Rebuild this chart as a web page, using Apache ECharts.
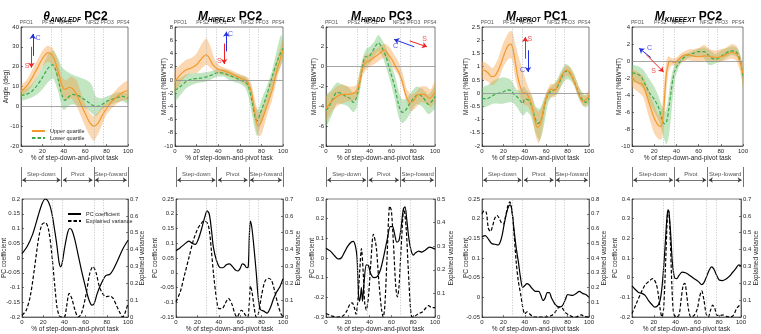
<!DOCTYPE html>
<html>
<head>
<meta charset="utf-8">
<script src="https://cdn.jsdelivr.net/npm/echarts@6/dist/echarts.min.js"></script>
<style>
  html, body { margin: 0; padding: 0; background: #fff; }
  #chart { width: 761px; height: 334px; }
</style>
</head>
<body>
<div id="chart"></div>
<script>
// ---- top row: mean and quartile band of the two groups (orange = upper quartile, green = lower quartile)
const p1OrMean = [[0,7.5],[5,10],[10,14],[15,19],[20,24],[25,27],[28,26.5],[31,24],[35,17],[38,11],[41,8.5],[45,9.5],[48,9],[52,6],[56,1],[60,-3.5],[64,-8],[68,-10],[72,-8.5],[76,-4.5],[80,-1],[85,2.5],[90,5],[95,7],[100,8]]
const p1OrHi = [[0,10.5],[5,13],[10,18],[15,23],[20,28],[25,30.5],[30,29],[35,22],[38,15],[42,13],[47,15],[52,13],[56,7],[60,1],[64,-3],[68,-5],[72,-3],[76,0],[80,2],[85,6],[90,9],[95,11.5],[100,13]]
const p1OrLo = [[0,5],[5,7],[10,10],[15,15],[20,20],[25,22.5],[30,20.5],[35,12],[38,6],[42,3],[47,4],[52,0],[56,-5],[60,-10],[64,-14.5],[68,-17.5],[72,-14],[76,-9],[80,-4],[85,-1],[90,1.5],[95,3],[100,3.5]]
const p1GrMean = [[0,5.5],[5,6],[10,7.5],[15,10.5],[20,14.5],[25,19],[29,21],[32,19],[35,13],[38,6],[41,3],[44,4.5],[48,6],[53,5.5],[58,4],[63,2],[68,0.3],[72,0],[76,1],[80,2.5],[85,3.5],[90,4.5],[95,5],[100,4]]
const p1GrHi = [[0,8],[5,9],[10,11],[15,15],[20,20],[25,26],[30,28],[35,24],[38,20],[42,18],[48,16],[55,14.5],[62,13],[66,11],[70,5],[75,4],[80,5],[85,6],[90,7],[95,7],[100,6.5]]
const p1GrLo = [[0,3],[5,3.5],[10,4.5],[15,6],[20,8.5],[25,12],[30,14],[35,7],[38,0],[40,-2],[44,0],[48,1],[55,0],[62,-1.5],[66,-3.5],[70,-5],[75,-2],[80,0],[85,1],[90,2],[95,2.5],[100,1.5]]

const p2OrMean = [[0,-0.2],[5,0.8],[10,1.5],[15,1.8],[20,2.3],[25,3.3],[29,3.8],[32,3.2],[35,2.3],[40,1.6],[45,1.4],[50,1.1],[55,0.7],[60,0.3],[65,0],[68,-0.5],[71,-2],[74,-5],[77,-7],[80,-6.3],[85,-4],[90,-1.5],[95,1.8],[100,4.5]]
const p2OrHi = [[0,1.5],[5,2.3],[10,3],[15,3.3],[20,4],[25,5.5],[29,6.3],[33,5],[37,3],[42,2.1],[50,1.6],[58,1],[64,0.6],[68,0.3],[71,-0.8],[74,-3],[77,-4.8],[80,-4.8],[85,-2.5],[90,0.5],[95,3.5],[100,6]]
const p2OrLo = [[0,-2],[5,-0.5],[10,0.5],[15,1],[20,1],[25,1.8],[29,2.3],[33,1.8],[37,1.2],[42,0.9],[50,0.5],[58,0],[64,-0.6],[68,-1.5],[71,-3.5],[74,-6.5],[77,-8.5],[80,-8.3],[85,-5.5],[90,-3],[95,0.5],[100,3.3]]
const p2GrMean = [[0,-1.6],[5,-1],[10,-0.3],[15,0.1],[20,0.2],[25,0.3],[30,0.5],[35,0.8],[40,1.1],[45,1],[50,0.7],[55,0.4],[60,0],[65,-0.3],[68,-1],[71,-3],[74,-5.5],[76,-6.2],[79,-5],[84,-2.8],[90,0.5],[95,3],[100,4.8]]
const p2GrHi = [[0,0],[5,0.3],[10,0.8],[15,1],[20,1],[30,1.2],[35,1.4],[40,1.6],[45,1.6],[50,1.4],[55,1],[60,0.7],[65,0.5],[68,0],[71,-1.5],[74,-4],[77,-4.5],[80,-3],[85,-1],[90,1.5],[95,5],[98,6.8],[100,6]]
const p2GrLo = [[0,-3.2],[5,-2.3],[10,-1.3],[15,-0.8],[20,-0.5],[30,-0.2],[35,0.2],[40,0.5],[45,0.5],[50,0],[55,-0.3],[60,-0.6],[65,-1.2],[68,-2.5],[71,-5],[74,-7.5],[76,-8.5],[79,-7],[84,-4.5],[90,-1.5],[95,1],[100,3]]

const p3OrMean = [[0,-4.2],[5,-3.5],[10,-3],[15,-2.8],[20,-2.8],[25,-2.7],[28,-2.5],[31,-1.5],[34,0],[37,0.5],[40,0.6],[45,1],[50,1.4],[53,1.7],[56,1.4],[60,0.8],[64,0],[67,-0.6],[70,-1.5],[73,-2.8],[77,-3.6],[80,-3.5],[85,-2.8],[90,-2.8],[95,-3.2],[100,-2.5]]
const p3OrHi = [[0,-3],[5,-2.5],[10,-2],[15,-1.8],[20,-2],[25,-2],[28,-1.8],[31,-0.5],[34,0.8],[37,1.2],[40,1.3],[45,1.7],[50,2.1],[54,2.3],[58,2],[62,1.3],[66,0.6],[70,-0.5],[74,-2.2],[78,-2.8],[82,-2.6],[87,-2],[92,-2],[96,-2.3],[100,-1.5]]
const p3OrLo = [[0,-5.5],[5,-4.6],[10,-4],[15,-3.7],[20,-3.5],[25,-3.4],[28,-3.2],[31,-2.3],[34,-0.8],[37,-0.3],[40,0],[45,0.3],[50,0.7],[54,0.9],[58,0.5],[62,-0.2],[66,-0.8],[70,-2],[74,-3.5],[78,-4.5],[82,-4.2],[87,-3.6],[92,-3.7],[96,-4.1],[100,-3.5]]
const p3GrMean = [[0,-4.4],[3,-4],[6,-3.3],[10,-2.6],[14,-2.7],[18,-3],[22,-3.2],[25,-3.6],[28,-3.1],[31,-1.5],[34,0.3],[36,1],[39,1],[42,1.4],[45,2],[48,2.4],[51,2],[55,1],[59,-0.5],[63,-2],[67,-4],[70,-4.6],[73,-4.4],[77,-3.7],[81,-3.1],[85,-2.8],[89,-3.1],[94,-3.8],[100,-3]]
const p3GrHi = [[0,-3],[5,-2.3],[10,-1.6],[15,-1.8],[20,-2],[25,-2.6],[28,-2.2],[31,-0.5],[34,1],[37,1.8],[40,2],[44,2.5],[48,3.2],[51,2.8],[55,2],[59,0.6],[63,-0.8],[67,-2.6],[70,-3.3],[74,-3.2],[78,-2.6],[83,-2],[88,-2.2],[94,-2.8],[100,-2]]
const p3GrLo = [[0,-6],[5,-5],[10,-3.7],[15,-3.8],[20,-4],[25,-4.6],[28,-4.2],[31,-2.5],[34,-0.4],[37,0],[40,0.3],[44,1],[48,1.5],[51,1.2],[55,0],[59,-1.5],[63,-3.2],[67,-5.2],[70,-5.7],[74,-5.3],[78,-4.6],[83,-3.8],[88,-4],[94,-4.8],[100,-4.2]]

const p4OrMean = [[0,0.88],[3,0.85],[6,0.75],[9,0.62],[12,0.65],[15,0.85],[18,1.15],[21,1.5],[24,1.78],[27,1.85],[29,1.65],[31,1.2],[33,0.7],[35,0.35],[37,0.1],[39,0],[41,0],[43,-0.1],[46,-0.4],[49,-0.95],[52,-1.3],[55,-1.1],[58,-0.5],[61,-0.05],[63,0.1],[65,0.15],[68,0.1],[71,0.35],[75,0.7],[79,0.87],[82,0.8],[86,0.45],[90,0],[94,-0.3],[97,-0.25],[100,-0.1]]
const p4OrHi = [[0,1.2],[5,1.1],[10,0.95],[15,1.3],[20,1.9],[25,2.3],[28,2.35],[31,1.9],[34,1.4],[37,1],[40,0.6],[43,0.25],[47,-0.1],[50,-0.55],[53,-0.7],[56,-0.5],[60,0],[64,0.35],[68,0.35],[72,0.6],[76,0.9],[79,1.05],[83,0.95],[87,0.6],[91,0.2],[95,-0.1],[100,0.1]]
const p4OrLo = [[0,0.55],[5,0.45],[10,0.3],[15,0.5],[20,1],[25,1.3],[28,1.3],[31,0.6],[34,0.1],[37,-0.3],[40,-0.45],[43,-0.5],[47,-0.9],[50,-1.6],[53,-1.9],[56,-1.5],[60,-0.4],[64,-0.15],[68,-0.15],[72,0.1],[76,0.5],[79,0.65],[83,0.55],[87,0.2],[91,-0.25],[95,-0.5],[100,-0.35]]
const p4GrMean = [[0,-0.2],[4,-0.22],[8,-0.15],[12,-0.05],[16,0],[20,0.05],[24,0.12],[27,0.1],[30,-0.05],[33,-0.15],[36,-0.3],[38,-0.4],[40,-0.22],[43,-0.25],[46,-0.45],[49,-0.85],[52,-1.15],[55,-1.05],[58,-0.55],[61,-0.1],[64,0.05],[67,0.1],[70,0.2],[74,0.55],[78,0.82],[81,0.8],[85,0.55],[89,0.15],[93,-0.2],[97,-0.35],[100,-0.2]]
const p4GrHi = [[0,0.2],[5,0.3],[10,0.45],[15,0.55],[20,0.6],[25,0.55],[28,0.45],[32,0.15],[36,0.1],[39,0.25],[42,0.1],[46,-0.1],[50,-0.5],[54,-0.6],[58,-0.2],[62,0.15],[66,0.3],[70,0.5],[74,0.85],[78,1.1],[82,1],[86,0.75],[90,0.3],[94,0],[97,-0.1],[100,0]]
const p4GrLo = [[0,-0.55],[5,-0.5],[10,-0.4],[15,-0.4],[20,-0.4],[25,-0.35],[28,-0.35],[32,-0.5],[36,-0.75],[39,-0.85],[42,-0.7],[46,-0.9],[50,-1.5],[54,-1.8],[58,-1.2],[62,-0.35],[66,-0.1],[70,-0.05],[74,0.25],[78,0.5],[82,0.5],[86,0.3],[90,-0.15],[94,-0.45],[97,-0.55],[100,-0.4]]

const p5OrMean = [[0,-1.9],[3,-2.4],[6,-2.6],[9,-2.7],[12,-3.5],[15,-4.8],[18,-6],[21,-7],[24,-7.6],[26,-7.7],[28,-6.5],[29.5,-4],[31,-1.5],[33,-0.2],[35,0],[37,-0.15],[39,-0.15],[42,0.2],[46,0.6],[50,0.75],[55,0.6],[60,0.5],[65,0.6],[70,0.55],[75,0.4],[80,0.5],[85,0.75],[90,1],[94,0.8],[97,0],[100,-1.5]]
const p5OrHi = [[0,-1],[5,-1.3],[10,-1.8],[15,-3.3],[20,-5.2],[24,-6.3],[27,-5.5],[29,-2.5],[31,0],[33,0.6],[36,0.3],[40,0.4],[45,1],[50,1.3],[55,1.4],[60,1.5],[65,1.9],[70,1.4],[75,1.2],[80,1.4],[85,1.6],[90,2],[94,1.8],[97,0.8],[100,-0.5]]
const p5OrLo = [[0,-3],[5,-3.6],[10,-4.2],[15,-6.5],[20,-8.5],[24,-9.2],[27,-9.2],[29,-7],[31,-3.5],[33,-1.2],[36,-0.5],[40,-0.6],[45,-0.1],[50,0.1],[55,0],[60,-0.1],[65,0],[70,0],[75,-0.1],[80,0],[85,0.1],[90,0.3],[94,0],[97,-1],[100,-3]]
const p5GrMean = [[0,-1.4],[4,-1.5],[8,-1.8],[12,-2.8],[16,-3.8],[20,-4.5],[24,-5.5],[27,-6.8],[29,-7.4],[31,-7.2],[33,-5.8],[35,-3.8],[37,-2],[39,-1],[42,-0.3],[46,0.3],[50,0.7],[55,0.9],[60,1.1],[65,1.1],[68,0.8],[71,0.4],[75,0.2],[79,0.4],[83,0.8],[88,1.15],[92,1.2],[95,0.9],[98,-0.2],[100,-2]]
const p5GrHi = [[0,-0.5],[5,-0.6],[10,-1],[15,-2],[20,-3],[24,-4.2],[27,-5.3],[30,-6],[32,-5],[34,-3],[36,-1.5],[38,-0.5],[40,0],[45,0.7],[50,0.9],[55,1.2],[60,1.5],[65,1.6],[70,1.3],[75,0.8],[80,1.2],[85,1.5],[90,1.7],[95,1.5],[98,0.5],[100,-1.3]]
const p5GrLo = [[0,-2.5],[5,-2.6],[10,-3.3],[15,-4.8],[20,-6],[24,-7],[27,-8.3],[29,-9.2],[31,-9.8],[33,-9],[35,-6.8],[37,-4],[39,-2],[42,-0.8],[46,0],[50,0.3],[55,0.5],[60,0.6],[65,0.3],[68,-0.3],[71,-0.5],[75,-0.3],[80,-0.1],[85,0.4],[90,0.7],[95,0.4],[98,-1],[100,-3]]

// ---- bottom row: PC coefficient (left axis) and explained variance (right axis)
const p6Coef = [[0,0.015],[5,0.04],[10,0.08],[15,0.14],[19,0.185],[22,0.2],[25,0.19],[28,0.155],[31,0.09],[33,0.04],[35,-0.015],[36.5,-0.03],[38,-0.015],[40,0.03],[43,0.085],[45,0.1],[47,0.095],[50,0.06],[53,0.01],[56,-0.04],[60,-0.1],[63,-0.14],[66,-0.16],[68,-0.155],[71,-0.12],[75,-0.085],[79,-0.06],[83,-0.055],[86,-0.04],[90,-0.01],[95,0.03],[100,0.06]]
const p6Var = [[0,0.01],[4,0.04],[8,0.13],[12,0.3],[16,0.48],[19,0.55],[22,0.56],[25,0.52],[28,0.38],[31,0.18],[33,0.06],[35,0.01],[37,0],[40,0],[42,0.06],[44.5,0.14],[47,0.11],[50,0.04],[53,0],[56,0.02],[60,0.12],[64,0.26],[67,0.3],[70,0.26],[73,0.18],[76,0.14],[79,0.12],[83,0.125],[86,0.11],[89,0.07],[92,0.03],[95,0],[97,0.02],[100,0.08]]

const p7Coef = [[0,0.075],[4,0.085],[8,0.097],[12,0.107],[15,0.1],[18,0.096],[21,0.115],[24,0.15],[27,0.19],[29,0.21],[31,0.2],[33,0.15],[35,0.085],[38,0.04],[41,0.018],[44,0.017],[47,0.027],[50,0.03],[53,0.02],[56,0.008],[58,0.006],[60,0.015],[62,0.03],[64,0.027],[66,0.017],[67.5,0.02],[68.5,0.12],[69.5,0.175],[71,0.15],[73,0.08],[75,0],[77,-0.09],[79,-0.125],[82,-0.13],[85,-0.137],[88,-0.12],[91,-0.09],[94,-0.065],[97,-0.048],[100,-0.02]]
const p7Var = [[0,0.09],[4,0.15],[8,0.25],[12,0.35],[16,0.45],[20,0.52],[23,0.55],[26,0.57],[29,0.56],[31,0.52],[33,0.4],[35,0.26],[38,0.1],[40,0.05],[43,0.05],[46,0.08],[49,0.11],[52,0.08],[55,0.02],[57,0],[59,0.02],[61,0.04],[63,0.03],[65,0.01],[67,0],[68.5,0.08],[69.5,0.185],[71,0.15],[73,0.06],[75,0],[77,0.02],[80,0.13],[83,0.21],[86,0.23],[89,0.22],[92,0.16],[95,0.08],[98,0.02],[100,0]]

const p8Coef = [[0,0.05],[4,0.035],[8,0.01],[11,-0.005],[14,0],[17,0.03],[20,0.06],[23,0.08],[25,0.085],[27,0.06],[28.5,0],[29.5,-0.15],[30.5,-0.22],[31.5,-0.2],[32.5,-0.15],[33.5,-0.22],[35,-0.12],[37,-0.035],[39,-0.04],[41,-0.08],[44,-0.1],[47,-0.095],[50,-0.06],[53,0.01],[56,0.09],[59,0.16],[61,0.16],[63,0.12],[65,0.08],[67,0.09],[69,0.16],[71,0.25],[72.5,0.26],[74,0.2],[76,0.1],[78,0.04],[80,0.015],[82,0.025],[85,0.035],[88,0.03],[91,0.04],[95,0.055],[100,0.045]]
const p8Var = [[0,0.015],[5,0.005],[10,0],[15,0.003],[19,0.025],[22,0.055],[24,0.06],[26,0.04],[27.5,0.012],[29,0.06],[31,0.2],[32.5,0.29],[34,0.2],[35.5,0.06],[37,0.03],[39,0.09],[41,0.22],[43.5,0.35],[46,0.3],[48.5,0.15],[51,0.03],[52.5,0],[54,0.05],[56,0.25],[58.5,0.47],[60,0.45],[62,0.3],[64,0.13],[65.5,0.085],[67,0.13],[69,0.3],[71.5,0.46],[73.5,0.38],[75.5,0.2],[77.5,0.04],[79,0],[82,0.005],[85,0.015],[88,0.02],[91,0.035],[94,0.048],[97,0.04],[100,0.04]]

const p9Coef = [[0,0.154],[3,0.157],[6,0.148],[9,0.137],[12,0.135],[15,0.133],[17,0.14],[19,0.16],[21,0.19],[23,0.215],[25,0.232],[26.5,0.235],[28,0.22],[30,0.17],[32,0.125],[34,0.09],[36,0.05],[38,0.025],[40,0.03],[42,0.035],[44,0.032],[47,0.022],[50,0.015],[53,0.015],[55,0.005],[57,-0.008],[59,-0.002],[61,0.012],[63,0.012],[65,-0.002],[67,-0.012],[69,-0.02],[72,-0.025],[75,-0.022],[78,-0.005],[80,0.007],[82,0.006],[85,0.005],[88,0.01],[91,0.015],[94,0.01],[97,0.007],[100,0]]
const p9Var = [[0,0.7],[2,0.72],[4,0.71],[6,0.6],[8,0.58],[10,0.62],[12,0.67],[14,0.69],[16,0.67],[18,0.64],[20,0.63],[22,0.68],[24,0.75],[26,0.78],[28,0.72],[30,0.56],[32,0.37],[34,0.24],[36,0.16],[38,0.07],[40,0.02],[42,0.035],[44,0.025],[47,0.005],[50,0],[60,0],[65,0.01],[68,0.03],[71,0.06],[73,0.07],[75,0.06],[78,0.03],[81,0.015],[84,0.003],[88,0],[91,0.01],[93,0.015],[95,0.005],[100,0]]

const p10Coef = [[0,-0.042],[3,-0.06],[6,-0.075],[9,-0.08],[12,-0.09],[15,-0.115],[18,-0.135],[21,-0.15],[24,-0.14],[26,-0.11],[28,-0.02],[30,0.13],[32,0.3],[33,0.345],[34,0.33],[35.5,0.22],[37,0.08],[39,0],[41,-0.005],[43,0.01],[46,0.028],[49,0.025],[52,0.015],[55,0.003],[58,-0.008],[61,-0.02],[64,-0.035],[66,-0.025],[68,0],[71,0.04],[73,0.055],[75,0.045],[77,0.02],[80,-0.012],[83,-0.015],[86,-0.008],[89,0.005],[92,0.025],[95,0.045],[98,0.065],[100,0.06]]
const p10Var = [[0,0.02],[4,0.08],[8,0.14],[12,0.19],[16,0.215],[19,0.228],[22,0.2],[24,0.14],[26,0.04],[27.5,0],[29,0.05],[31,0.35],[32.5,0.6],[33.5,0.63],[35,0.48],[36.5,0.2],[38,0.03],[40,0],[43,0.01],[45,0.1],[47,0.19],[48.5,0.2],[50,0.14],[52,0.04],[54,0],[57,0.01],[60,0.05],[62,0.12],[64,0.155],[66,0.1],[68,0.02],[70,0],[72,0.04],[74,0.07],[76,0.05],[78,0.01],[81,0.01],[84,0.012],[87,0.003],[90,0],[93,0.01],[96,0.05],[98,0.065],[100,0.075]]

// ---- gait events and phases
const eventLines = [28.5, 38, 68.5, 77]
const eventNames = ['PFO1', 'PFS2', 'NFO1', 'NFS2', 'PFO3', 'PFS4']
const eventLabelAt = [5, 25.5, 41.5, 67, 80.5, 95.5]
const phaseNames = ['Step-down', 'Pivot', 'Step-foward']
const phaseBounds = [0, 38, 68, 100]

// ---- arrow annotations (C / S)
const BLUE = '#2430e0'
const RED = '#ef2323'
const p1Arrows = [{ from: [11, 25.5], to: [11, 36.5], c: BLUE }, { from: [9.7, 30], to: [9.7, 19.5], c: RED }]
const p1Notes = [['C', 16, 34.5, BLUE], ['S', 5.6, 20.5, RED]]
const p2Arrows = [{ from: [45.5, 5.5], to: [45.5, 2.4], c: RED }, { from: [47.5, 4.3], to: [47.5, 7.3], c: BLUE }]
const p2Notes = [['S', 41, 2.9, RED], ['C', 51.5, 7, BLUE]]
const p3Arrows = [{ from: [81, 2], to: [62.5, 2.75], c: BLUE }, { from: [76.8, 2.6], to: [92.7, 2], c: RED }]
const p3Notes = [['C', 63.7, 2.1, BLUE], ['S', 90.5, 2.76, RED]]
const p4Arrows = [{ from: [40.4, 1.3], to: [40.4, 2.12], c: RED }, { from: [43, 1.62], to: [43, 0.8], c: BLUE }]
const p4Notes = [['S', 44.7, 2.06, RED], ['C', 37.9, 0.89, BLUE]]
const p5Arrows = [{ from: [17, 0.4], to: [6.5, 1.5], c: BLUE }, { from: [12.9, 0.75], to: [28.5, -1.3], c: RED }]
const p5Notes = [['C', 15.9, 1.53, BLUE], ['S', 19.5, -1.2, RED]]

const FONT = 'Liberation Sans, Arial, sans-serif'
const INK = '#262626'
const ORANGE = '#F39A2B'
const GREEN = '#3BAA4A'
const ORANGE_BAND = 'rgba(246,160,72,0.42)'
const GREEN_BAND = 'rgba(92,190,92,0.38)'

const TOP = [
  { title: '{m|θ}{s|ANKLEDF}{p| PC2}', yName: 'Angle (deg)', min: -20, max: 40, step: 10, gap: 11, left: 21, width: 107,
    or: [p1OrMean, p1OrHi, p1OrLo], gr: [p1GrMean, p1GrHi, p1GrLo], arrows: p1Arrows, notes: p1Notes },
  { title: '{m|M}{s|HIPFLEX}{p| PC2}', yName: 'Moment (%BW*HT)', min: -10, max: 8, step: 2, gap: 7, left: 175, width: 108,
    or: [p2OrMean, p2OrHi, p2OrLo], gr: [p2GrMean, p2GrHi, p2GrLo], arrows: p2Arrows, notes: p2Notes },
  { title: '{m|M}{s|HIPADD}{p| PC3}', yName: 'Moment (%BW*HT)', min: -8, max: 4, step: 2, gap: 8, left: 326, width: 109,
    or: [p3OrMean, p3OrHi, p3OrLo], gr: [p3GrMean, p3GrHi, p3GrLo], arrows: p3Arrows, notes: p3Notes },
  { title: '{m|M}{s|HIPROT}{p| PC1}', yName: 'Moment (%BW*HT)', min: -2, max: 2.5, step: 0.5, gap: 12, left: 482, width: 107,
    or: [p4OrMean, p4OrHi, p4OrLo], gr: [p4GrMean, p4GrHi, p4GrLo], arrows: p4Arrows, notes: p4Notes },
  { title: '{m|M}{s|KNEEEXT}{p| PC2}', yName: 'Moment (%BW*HT)', min: -10, max: 4, step: 2, gap: 9, left: 632, width: 111,
    or: [p5OrMean, p5OrHi, p5OrLo], gr: [p5GrMean, p5GrHi, p5GrLo], arrows: p5Arrows, notes: p5Notes }
]

const BOTTOM = [
  { left: 21, width: 107, cMin: -0.2, cMax: 0.2, cStep: 0.05, vMax: 0.7, coef: p6Coef, vari: p6Var, lGap: 14, rGap: 11 },
  { left: 176, width: 107, cMin: -0.15, cMax: 0.25, cStep: 0.05, vMax: 0.7, coef: p7Coef, vari: p7Var, lGap: 17, rGap: 12 },
  { left: 326, width: 109, cMin: -0.3, cMax: 0.3, cStep: 0.1, vMax: 0.5, coef: p8Coef, vari: p8Var, lGap: 10, rGap: 13 },
  { left: 482, width: 107, cMin: -0.05, cMax: 0.25, cStep: 0.05, vMax: 0.8, coef: p9Coef, vari: p9Var, lGap: 12, rGap: 12 },
  { left: 632, width: 111, cMin: -0.2, cMax: 0.4, cStep: 0.1, vMax: 0.7, coef: p10Coef, vari: p10Var, lGap: 13, rGap: 12 }
]

const tickText = { fontSize: 6, color: INK, fontFamily: FONT, margin: 2 }
const nameText = { fontSize: 6.5, color: INK, fontFamily: FONT }
const thin = { color: INK, width: 0.6 }

function xAx (gi) {
  return {
    type: 'value', gridIndex: gi, min: 0, max: 100, interval: 20,
    axisLine: { onZero: false, lineStyle: thin }, axisTick: { inside: true, length: 2, lineStyle: thin },
    axisLabel: tickText, splitLine: { show: false },
    name: '% of step-down-and-pivot task', nameLocation: 'middle', nameGap: 9, nameMoveOverlap: false, nameTextStyle: nameText
  }
}
function yAx (gi, min, max, step, name, gap, pos) {
  return {
    type: 'value', gridIndex: gi, min, max, interval: step, position: pos,
    axisLine: { show: true, onZero: false, lineStyle: thin }, axisTick: { show: true, inside: true, length: 2, lineStyle: thin },
    axisLabel: tickText, splitLine: { show: false },
    name, nameLocation: 'middle', nameRotate: 90, nameGap: gap, nameMoveOverlap: false, nameTextStyle: nameText
  }
}
function hidden (gi, max) {
  return { type: 'value', gridIndex: gi, min: 0, max, show: false, splitLine: { show: false } }
}
function band (ai, hi, lo, fill, z) {
  return {
    type: 'custom', xAxisIndex: ai, yAxisIndex: ai, silent: true, z, data: [[0, 0]],
    renderItem (params, api) {
      const pts = hi.map(d => api.coord(d)).concat(lo.slice().reverse().map(d => api.coord(d)))
      return { type: 'polygon', shape: { points: pts, smooth: 0.2 }, style: { fill } }
    }
  }
}
function curve (xi, yi, name, data, color, dashed, z) {
  return {
    type: 'line', name, xAxisIndex: xi, yAxisIndex: yi, data, z, smooth: 0.3,
    symbol: 'none', silent: true, color,
    lineStyle: { color, width: 1.2, type: dashed ? [3.5, 2] : 'solid' }
  }
}
function marks (xi, yi, z, data) {
  return {
    type: 'line', xAxisIndex: xi, yAxisIndex: yi, data: [], z, silent: true,
    markLine: { silent: true, symbol: 'none', symbolSize: 5, label: { show: false }, data }
  }
}
function texts (xi, yi, items) {
  return {
    type: 'scatter', xAxisIndex: xi, yAxisIndex: yi, symbolSize: 0, silent: true, z: 8, clip: false,
    data: items.map(t => ({
      value: [t.x, t.y],
      label: { show: true, formatter: t.text, position: t.pos || 'inside', distance: 1.5, color: t.color || INK, fontSize: t.size || 5, fontFamily: FONT }
    }))
  }
}
const dotted = { color: '#b4b4b4', type: [1.2, 1.5], width: 0.7 }

const grid = []; const xAxis = []; const yAxis = []; const series = []; const title = []

// top row: grid/x/y index 0..4
TOP.forEach((p, i) => {
  grid[i] = { left: p.left, top: 27, width: p.width, height: 119, show: true, borderColor: INK, borderWidth: 0.6 }
  xAxis[i] = xAx(i)
  yAxis[i] = yAx(i, p.min, p.max, p.step, p.yName, p.gap, 'left')
  title.push({
    text: p.title, left: p.left + p.width / 2 - 4, top: 5, textAlign: 'center',
    textStyle: {
      rich: {
        m: { fontSize: 12, fontStyle: 'italic', fontFamily: FONT, color: '#000', lineHeight: 14 },
        s: { fontSize: 6.5, fontStyle: 'italic', fontFamily: FONT, color: '#000', lineHeight: 5, verticalAlign: 'bottom' },
        p: { fontSize: 12, fontFamily: FONT, color: '#000', lineHeight: 14 }
      }
    }
  })
  series.push(marks(i, i, 1, eventLines.map(v => ({ xAxis: v, lineStyle: dotted }))
    .concat([{ yAxis: 0, lineStyle: { color: '#8f8f8f', width: 0.8, type: 'solid' } }])))
  series.push(band(i, p.gr[1], p.gr[2], GREEN_BAND, 2))
  series.push(band(i, p.or[1], p.or[2], ORANGE_BAND, 2))
  series.push(curve(i, i, 'Lower quartile', p.gr[0], GREEN, true, 4))
  series.push(curve(i, i, 'Upper quartile', p.or[0], ORANGE, false, 4))
  series.push(marks(i, i, 6, p.arrows.map(a => [
    { coord: a.from, symbol: 'none', lineStyle: { color: a.c, width: 1, type: 'solid' } },
    { coord: a.to, symbol: 'arrow', symbolSize: 5, lineStyle: { color: a.c, width: 1, type: 'solid' } }
  ])))
  series.push(texts(i, i, eventNames.map((n, k) => ({ text: n, x: eventLabelAt[k], y: p.max, pos: 'top' }))
    .concat(p.notes.map(t => ({ text: t[0], x: t[1], y: t[2], color: t[3], size: 7 })))))
})

// bottom row: grid/x 5..9, left y 5..9, right y 10..14
BOTTOM.forEach((b, k) => {
  const gi = 5 + k
  grid[gi] = { left: b.left, top: 199, width: b.width, height: 119, show: true, borderColor: INK, borderWidth: 0.6 }
  xAxis[gi] = xAx(gi)
  yAxis[gi] = yAx(gi, b.cMin, b.cMax, b.cStep, 'PC coefficient', b.lGap, 'left')
  yAxis[10 + k] = yAx(gi, 0, b.vMax, 0.1, 'Explained variance', b.rGap, 'right')
  series.push(marks(gi, gi, 1, eventLines.map(v => ({ xAxis: v, lineStyle: dotted }))))
  series.push(curve(gi, gi, 'PC coefficient', b.coef, '#000', false, 4))
  series.push(curve(gi, 10 + k, 'Explained variance', b.vari, '#000', true, 4))
})

// phase bars above the bottom row: grid/x 10..14, y 15..19
BOTTOM.forEach((b, k) => {
  const gi = 10 + k
  grid[gi] = { left: b.left, top: 167, width: b.width, height: 20 }
  xAxis[gi] = hidden(gi, 100)
  yAxis[15 + k] = hidden(gi, 1)
  const ink = { color: '#3a3a3a', width: 0.7, type: 'solid' }
  const lines = phaseBounds.map(v => ({ xAxis: v, lineStyle: ink }))
  phaseNames.forEach((n, j) => {
    lines.push([
      { coord: [phaseBounds[j] + 1.2, 0.35], symbol: 'arrow', symbolSize: 4, lineStyle: ink },
      { coord: [phaseBounds[j + 1] - 1.2, 0.35], symbol: 'arrow', symbolSize: 4, lineStyle: ink }
    ])
  })
  series.push(marks(gi, 15 + k, 2, lines))
  series.push(texts(gi, 15 + k, phaseNames.map((n, j) => ({
    text: n, x: (phaseBounds[j] + phaseBounds[j + 1]) / 2, y: 0.62, size: 6
  }))))
})

const legendBase = {
  orient: 'vertical', itemWidth: 13, itemHeight: 6, itemGap: 1, selectedMode: false,
  itemStyle: { opacity: 0 },
  textStyle: { fontSize: 5.5, color: INK, fontFamily: FONT }
}

const chart = echarts.init(document.getElementById('chart'), null, { renderer: 'canvas' })
chart.setOption({
  animation: false,
  backgroundColor: '#fff',
  textStyle: { fontFamily: FONT },
  title,
  legend: [
    Object.assign({ data: ['Upper quartile', 'Lower quartile'], left: 26, top: 123 }, legendBase),
    Object.assign({ data: ['PC coefficient', 'Explained variance'], left: 62, top: 206 }, legendBase)
  ],
  grid,
  xAxis,
  yAxis,
  series
})
</script>
</body>
</html>
